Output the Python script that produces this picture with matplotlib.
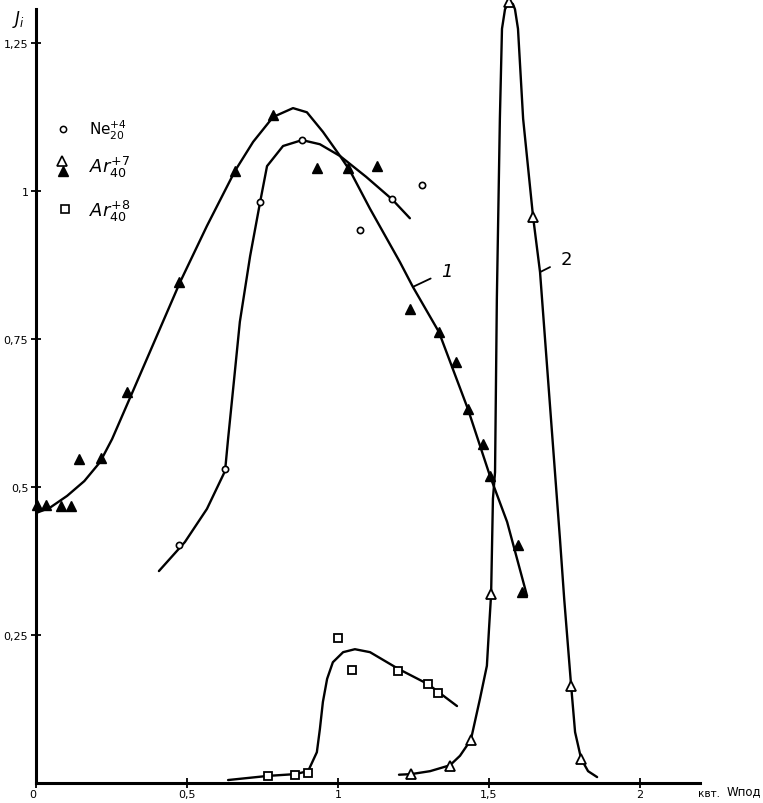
import numpy as np
import matplotlib
matplotlib.use('Agg')
import matplotlib.pyplot as plt

# values (x in kW, y in J_i)

# curve 1 (Ar+7, filled triangles)
curve1_x = [0.000, 0.046, 0.103, 0.160, 0.212, 0.252, 0.321, 0.477, 0.566, 0.659, 0.719, 0.785,
            0.851, 0.897, 0.950, 1.007, 1.040, 1.106, 1.205, 1.248, 1.334, 1.430, 1.503,
            1.560, 1.626]
curve1_y = [0.456, 0.465, 0.485, 0.510, 0.542, 0.581, 0.662, 0.846, 0.941, 1.034, 1.083, 1.125,
            1.140, 1.133, 1.100, 1.059, 1.034, 0.970, 0.880, 0.838, 0.762, 0.632, 0.519,
            0.441, 0.316]
ar7_filled_x = [0.003, 0.033, 0.083, 0.116, 0.142, 0.215, 0.301, 0.474, 0.659, 0.785, 0.930,
                1.033, 1.129, 1.238, 1.334, 1.391, 1.430, 1.480, 1.503, 1.596, 1.609]
ar7_filled_y = [0.470, 0.470, 0.468, 0.468, 0.547, 0.549, 0.660, 0.846, 1.034, 1.128, 1.039,
                1.039, 1.042, 0.801, 0.762, 0.711, 0.632, 0.573, 0.519, 0.402, 0.323]

# Ne+4 curve, open circles
ne_curve_x = [0.407, 0.493, 0.566, 0.626, 0.636, 0.656, 0.675, 0.709, 0.742, 0.765, 0.818,
              0.881, 0.940, 1.007, 1.093, 1.179, 1.238]
ne_curve_y = [0.358, 0.407, 0.463, 0.527, 0.581, 0.682, 0.779, 0.890, 0.981, 1.042, 1.076,
              1.086, 1.079, 1.059, 1.024, 0.986, 0.954]
ne_x = [0.474, 0.626, 0.742, 0.881, 1.073, 1.179, 1.278]
ne_y = [0.402, 0.530, 0.981, 1.086, 0.934, 0.986, 1.010]

# Ar+8 curve, open squares
ar8_curve_x = [0.636, 0.768, 0.858, 0.901, 0.930, 0.940, 0.950, 0.964, 0.983, 1.017, 1.056,
               1.106, 1.199, 1.298, 1.394]
ar8_curve_y = [0.005, 0.012, 0.015, 0.020, 0.052, 0.091, 0.137, 0.176, 0.204, 0.221, 0.226,
               0.221, 0.193, 0.167, 0.130]
ar8_x = [0.768, 0.858, 0.901, 1.000, 1.046, 1.199, 1.298, 1.331]
ar8_y = [0.012, 0.014, 0.017, 0.245, 0.191, 0.189, 0.167, 0.152]

# curve 2 (Ar+7, open triangles)
curve2_x = [1.202, 1.242, 1.305, 1.371, 1.404, 1.440, 1.470, 1.493, 1.500, 1.507, 1.513, 1.520,
            1.526, 1.536, 1.543, 1.553, 1.566, 1.579, 1.586, 1.596, 1.613, 1.646, 1.669,
            1.725, 1.735, 1.749, 1.772, 1.785, 1.805, 1.828, 1.858]
curve2_y = [0.014, 0.015, 0.020, 0.030, 0.046, 0.073, 0.142, 0.198, 0.260, 0.319, 0.480, 0.525,
            0.818, 1.122, 1.274, 1.307, 1.319, 1.316, 1.307, 1.274, 1.122, 0.956, 0.863,
            0.480, 0.412, 0.311, 0.164, 0.086, 0.041, 0.020, 0.010]
ar7_open_x = [1.242, 1.371, 1.440, 1.507, 1.566, 1.646, 1.772, 1.805]
ar7_open_y = [0.015, 0.029, 0.073, 0.319, 1.319, 0.956, 0.164, 0.041]

xticks = [0, 0.5, 1, 1.5, 2]
xtick_labels = ['0', '0,5', '1', '1,5', '2']
yticks = [0.25, 0.5, 0.75, 1, 1.25]
ytick_labels = ['0,25', '0,5', '0,75', '1', '1,25']

fig = plt.figure(figsize=(7.63, 8.04), dpi=100)
ax = fig.add_axes([36 / 763, 20 / 804, 727 / 763, 784 / 804])
ax.set_xlim(0, 727 / 302)
ax.set_ylim(0, 784 / 592)

lw = 1.7
for cx, cy in [(curve1_x, curve1_y), (ne_curve_x, ne_curve_y),
               (ar8_curve_x, ar8_curve_y), (curve2_x, curve2_y)]:
    ax.plot(cx, cy, color='black', lw=lw, solid_joinstyle='round', solid_capstyle='round')

ax.plot(ar7_filled_x, ar7_filled_y, '^', color='black', ms=7, ls='none', clip_on=False, zorder=5)
ax.plot(ne_x, ne_y, 'o', mfc='white', mec='black', mew=1.2, ms=4.5, ls='none', zorder=5)
ax.plot(ar8_x, ar8_y, 's', mfc='white', mec='black', mew=1.3, ms=5.5, ls='none', zorder=5)
ax.plot(ar7_open_x, ar7_open_y, '^', mfc='white', mec='black', mew=1.3, ms=6.5, ls='none',
        clip_on=False, zorder=5)

# curve numbers with leader lines
ax.annotate('1', xy=(1.248, 0.838), xytext=(1.36, 0.865), fontsize=13, fontstyle='italic',
            ha='center', va='center',
            arrowprops=dict(arrowstyle='-', color='black', lw=1.3, shrinkA=6, shrinkB=0))
ax.annotate('2', xy=(1.669, 0.863), xytext=(1.755, 0.885), fontsize=13,
            ha='center', va='center',
            arrowprops=dict(arrowstyle='-', color='black', lw=1.3, shrinkA=6, shrinkB=0))

# legend drawn by hand
ax.plot([0.037], [0.834], 'o', mfc='white', mec='black', mew=1.1, ms=4.5, transform=ax.transAxes)
ax.plot([0.036], [0.793], '^', mfc='white', mec='black', mew=1.2, ms=6.5, transform=ax.transAxes)
ax.plot([0.037], [0.780], '^', color='black', ms=6.5, transform=ax.transAxes)
ax.plot([0.040], [0.732], 's', mfc='white', mec='black', mew=1.2, ms=5.5, transform=ax.transAxes)
ax.text(0.073, 0.834, r'$\mathrm{Ne}_{20}^{+4}$', fontsize=11, va='center', transform=ax.transAxes)
ax.text(0.073, 0.786, r'$\mathit{Ar}_{40}^{+7}$', fontsize=13, va='center', transform=ax.transAxes)
ax.text(0.073, 0.730, r'$\mathit{Ar}_{40}^{+8}$', fontsize=13, va='center', transform=ax.transAxes)

# axes
for s in ['top', 'right']:
    ax.spines[s].set_visible(False)
ax.spines['left'].set_linewidth(2.2)
ax.spines['bottom'].set_linewidth(2.2)
ax.spines['left'].set_bounds(0, 1.307)
ax.spines['bottom'].set_bounds(0, 2.2)

ax.set_xticks(xticks)
ax.set_xticklabels(xtick_labels)
ax.set_yticks(yticks)
ax.set_yticklabels(ytick_labels)
ax.tick_params(direction='inout', length=7, width=1.3, labelsize=8)
ax.tick_params(axis='x', pad=1)
ax.tick_params(axis='y', pad=2)
ax.get_xticklabels()[0].set_horizontalalignment('right')

fig.text(12 / 763, 1 - 20 / 804, r'$J_i$', fontsize=12, va='center', ha='left')
fig.text(698 / 763, 1 - 794 / 804, 'квт.', fontsize=7.5, va='center', ha='left')
fig.text(761 / 763, 1 - 792 / 804, 'Wпод', fontsize=8.5, va='center', ha='right')

fig.savefig('out.png', dpi=100, facecolor='white')
